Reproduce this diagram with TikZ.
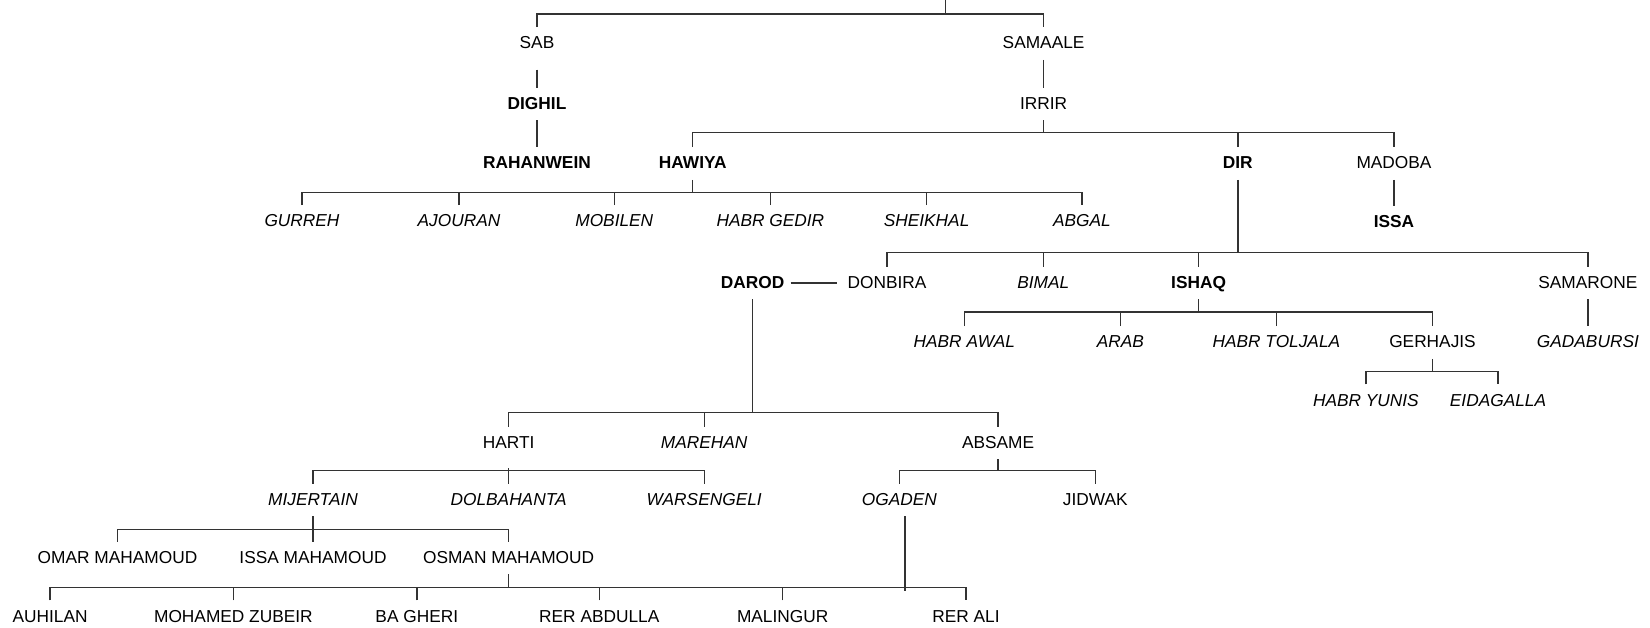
\documentclass[tikz,border=0pt]{standalone}
\usepackage{fontspec}
\setmainfont{Liberation Sans}
\usetikzlibrary{calc}
\begin{document}
\begin{tikzpicture}[x=1pt,y=-1pt,
  lbl/.style={anchor=base,inner sep=0pt,text height=21.75pt,text depth=10.75pt,font=\fontsize{17.3}{20}\selectfont},
  rg/.style={lbl},
  it/.style={lbl,font=\fontsize{17.3}{20}\selectfont\itshape},
  bf/.style={lbl,font=\fontsize{17.3}{20}\selectfont\bfseries},
  conn/.style={draw=black!80,line width=1.4pt}]
\useasboundingbox (0,0) rectangle (1650,628);

% nodes
\node[rg] (sab) at (537,49) {SAB};
\node[rg] (samaale) at (1043.6,49) {SAMAALE};
\node[bf] (dighil) at (537,109.5) {DIGHIL};
\node[rg] (irrir) at (1043.6,109.5) {IRRIR};
\node[bf] (rahanwein) at (537,169) {RAHANWEIN};
\node[bf] (hawiya) at (692.7,169) {HAWIYA};
\node[bf] (dir) at (1237.8,169) {DIR};
\node[rg] (madoba) at (1394,169) {MADOBA};
\node[it] (gurreh) at (302,227) {GURREH};
\node[it] (ajouran) at (459,227) {AJOURAN};
\node[it] (mobilen) at (614.3,227) {MOBILEN};
\node[it] (habrgedir) at (770.4,227) {HABR GEDIR};
\node[it] (sheikhal) at (926.6,227) {SHEIKHAL};
\node[it] (abgal) at (1082,227) {ABGAL};
\node[bf] (issa) at (1394,228) {ISSA};
\node[bf] (darod) at (752.7,288.5) {DAROD};
\node[rg] (donbira) at (887,288.5) {DONBIRA};
\node[it] (bimal) at (1043.2,288.5) {BIMAL};
\node[bf] (ishaq) at (1198.6,288.5) {ISHAQ};
\node[rg] (samarone) at (1587.9,288.5) {SAMARONE};
\node[it] (habrawal) at (964.3,348) {HABR AWAL};
\node[it] (arab) at (1120.4,348) {ARAB};
\node[it] (habrtoljala) at (1276.4,348) {HABR TOLJALA};
\node[rg] (gerhajis) at (1432.5,348) {GERHAJIS};
\node[it] (gadabursi) at (1587.9,348) {GADABURSI};
\node[it] (habryunis) at (1365.9,406.3) {HABR YUNIS};
\node[it] (eidagalla) at (1498,406.3) {EIDAGALLA};
\node[rg] (harti) at (508.6,448.5) {HARTI};
\node[it] (marehan) at (704.2,448.5) {MAREHAN};
\node[rg] (absame) at (998.1,448.5) {ABSAME};
\node[it] (mijertain) at (313,505.5) {MIJERTAIN};
\node[it] (dolbahanta) at (508.6,505.5) {DOLBAHANTA};
\node[it] (warsengeli) at (704.2,505.5) {WARSENGELI};
\node[it] (ogaden) at (899.4,505.5) {OGADEN};
\node[rg] (jidwak) at (1095.3,505.5) {JIDWAK};
\node[rg] (omar) at (117.5,563.5) {OMAR MAHAMOUD};
\node[rg] (issam) at (313,563.5) {ISSA MAHAMOUD};
\node[rg] (osman) at (508.6,563.5) {OSMAN MAHAMOUD};
\node[rg] (auhilan) at (50.1,622.3) {AUHILAN};
\node[rg] (mohamed) at (233.4,622.3) {MOHAMED ZUBEIR};
\node[rg] (bagheri) at (416.8,622.3) {BA GHERI};
\node[rg] (rerabdulla) at (599.3,622.3) {RER ABDULLA};
\node[rg] (malingur) at (782.7,622.3) {MALINGUR};
\node[rg] (rerali) at (966,622.3) {RER ALI};

% bar coordinates
\coordinate (root) at (945.7,0);
\coordinate (rootbar) at (945.7,14);
\coordinate (irrirbar) at (1043.6,132.7);
\coordinate (hawbar) at (692.7,192.7);
\coordinate (dirbar) at (1237.8,252.7);
\coordinate (ishaqbar) at (1198.6,312);
\coordinate (gerbar) at (1432.5,371.7);
\coordinate (darodbar) at (753,412.5);
\coordinate (hartibar) at (508.6,470.7);
\coordinate (absamebar) at (998.1,470.7);
\coordinate (mijbar) at (313,529.3);
\coordinate (osmanbar) at (508.6,587.3);
\coordinate (ogadenend) at (905,591);

% top
\draw[conn] (root) -- (rootbar);
\draw[conn] (sab.north) |- (rootbar) -| (samaale.north);
\draw[conn] ([yshift=-9.6pt]sab.south) -- (dighil.north);
\draw[conn] (dighil.south) -- (rahanwein.north);
\draw[conn] (samaale.south) -- (irrir.north);
% irrir
\draw[conn] (irrir.south) -- (irrirbar);
\draw[conn] (hawiya.north) |- (irrirbar) -| (madoba.north);
\draw[conn] (dir.north) -- (dir.north |- irrirbar);
\draw[conn] (madoba.south) -- (issa.north);
% hawiya
\draw[conn] (hawiya.south) -- (hawbar);
\draw[conn] (gurreh.north) |- (hawbar) -| (abgal.north);
\foreach \n in {ajouran,mobilen,habrgedir,sheikhal}
  \draw[conn] (\n.north) -- (\n.north |- hawbar);
% dir
\draw[conn] (dir.south) -- (dirbar);
\draw[conn] (donbira.north) |- (dirbar) -| (samarone.north);
\foreach \n in {bimal,ishaq}
  \draw[conn] (\n.north) -- (\n.north |- dirbar);
\draw[conn] (samarone.south) -- (gadabursi.north);
\draw[conn] ([xshift=6pt]darod.east) -- ([xshift=-10pt]donbira.west);
% ishaq
\draw[conn] (ishaq.south) -- (ishaqbar);
\draw[conn] (habrawal.north) |- (ishaqbar) -| (gerhajis.north);
\foreach \n in {arab,habrtoljala}
  \draw[conn] (\n.north) -- (\n.north |- ishaqbar);
% gerhajis
\draw[conn] (gerhajis.south) -- (gerbar);
\draw[conn] (habryunis.north) |- (gerbar) -| (eidagalla.north);
% darod
\draw[conn] (darod.south) -- (darod.south |- darodbar);
\draw[conn] (harti.north) |- (darodbar) -| (absame.north);
\draw[conn] (marehan.north) -- (marehan.north |- darodbar);
% harti
\draw[conn] ([yshift=-9pt]harti.south) -- (dolbahanta.north);
\draw[conn] (mijertain.north) |- (hartibar) -| (warsengeli.north);
% absame
\draw[conn] (absame.south) -- (absamebar);
\draw[conn] (ogaden.north) |- (absamebar) -| (jidwak.north);
% mijertain
\draw[conn] (mijertain.south) -- (issam.north);
\draw[conn] (omar.north) |- (mijbar) -| (osman.north);
% osman
\draw[conn] (osman.south) -- (osmanbar);
\draw[conn] (auhilan.north) |- (osmanbar) -| (rerali.north);
\foreach \n in {mohamed,bagheri,rerabdulla,malingur}
  \draw[conn] (\n.north) -- (\n.north |- osmanbar);
% ogaden
\draw[conn] ([xshift=5.6pt]ogaden.south) -- (ogadenend);
\end{tikzpicture}
\end{document}
